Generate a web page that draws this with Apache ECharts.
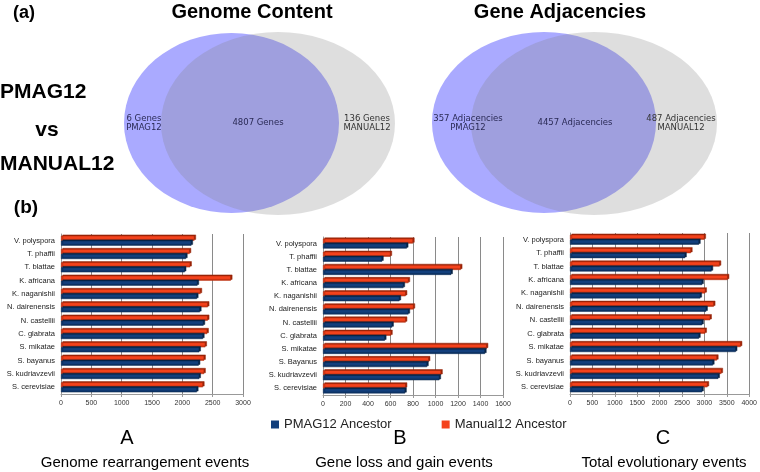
<!DOCTYPE html>
<html lang="en">
<head>
	<meta charset="UTF-8">
	<title>PMAG12 vs MANUAL12</title>
	<style>
		html, body{
			margin: 0;
			padding: 0;
			background: #fff;
		}
		#main{
			width: 760px;
			height: 472px;
		}
	</style>
	<script src="https://cdn.jsdelivr.net/npm/echarts@6/dist/echarts.min.js"></script>
</head>
<body>
	<div id="main"></div>
	<script>
		// 物种（B图里 Bayanus 是大写）
		var species = ['V. polyspora', 'T. phaffii', 'T. blattae', 'K. africana', 'K. naganishii', 'N. dairenensis',
			'N. castellii', 'C. glabrata', 'S. mikatae', 'S. bayanus', 'S. kudriavzevii', 'S. cerevisiae'];
		var speciesB = ['V. polyspora', 'T. phaffii', 'T. blattae', 'K. africana', 'K. naganishii', 'N. dairenensis',
			'N. castellii', 'C. glabrata', 'S. mikatae', 'S. Bayanus', 'S. kudriavzevii', 'S. cerevisiae'];

		// A: genome rearrangement events
		var rearrPmag = [2150, 2060, 2040, 2250, 2240, 2290, 2350, 2340, 2280, 2270, 2280, 2240];
		var rearrManual = [2200, 2120, 2130, 2800, 2300, 2420, 2420, 2410, 2380, 2360, 2360, 2340];
		// B: gene loss and gain events
		var lossPmag = [745, 525, 1140, 715, 680, 760, 615, 550, 1440, 925, 1035, 730];
		var lossManual = [800, 600, 1225, 760, 735, 805, 735, 605, 1455, 940, 1050, 735];
		// C: total evolutionary events
		var totalPmag = [2880, 2570, 3160, 2950, 2910, 3040, 2950, 2880, 3700, 3190, 3310, 2950];
		var totalManual = [3000, 2700, 3340, 3520, 3020, 3210, 3130, 3020, 3810, 3280, 3380, 3070];

		// 坐标轴刻度
		var axisMax = [3000, 1600, 4000];
		var axisStep = [500, 200, 500];

		// Venn 数字
		var vennGenes = [6, 4807, 136];
		var vennAdj = [357, 4457, 487];

		var seriesNames = ['PMAG12 Ancestor', 'Manual12 Ancestor'];
		var colors = ['#123f7c', '#f4421c'];
		var edge = ['#082447', '#9a2408'];

		var myChart = echarts.init(document.getElementById('main'));

		var grids = [
			{left: 61, top: 234, width: 182, height: 160},
			{left: 323, top: 237, width: 180, height: 158},
			{left: 570, top: 233, width: 182, height: 161}
		];
		var cats = [species, speciesB, species];
		var dataSets = [[rearrPmag, rearrManual], [lossPmag, lossManual], [totalPmag, totalManual]];

		var xAxes = [], yAxes = [], series = [];
		for (var i = 0; i < 3; i++) {
			xAxes.push({
				type: 'value',
				gridIndex: i,
				min: 0,
				max: axisMax[i],
				interval: axisStep[i],
				axisLine: {show: true, lineStyle: {color: '#999'}},
				axisTick: {show: true, length: 3, lineStyle: {color: '#999'}},
				axisLabel: {
					fontSize: 7, color: '#333', margin: 6, fontFamily: 'Liberation Sans',
					formatter: function (v) { return String(v); }
				},
				splitLine: {show: true, lineStyle: {color: '#8a8a8a', width: 1}}
			});
			yAxes.push({
				type: 'category',
				gridIndex: i,
				inverse: true,
				data: cats[i],
				axisLine: {show: true, lineStyle: {color: '#999'}},
				axisTick: {show: false},
				axisLabel: {fontSize: 7.5, color: '#222', margin: 6, fontFamily: 'Liberation Sans'}
			});
			for (var s = 1; s >= 0; s--) {
				series.push({
					name: seriesNames[s],
					type: 'bar',
					xAxisIndex: i,
					yAxisIndex: i,
					data: dataSets[i][s],
					barWidth: 5,
					barGap: '0%',
					itemStyle: {
						color: colors[s],
						borderColor: edge[s],
						borderWidth: 0.5,
						shadowColor: edge[s],
						shadowOffsetX: 1.5,
						shadowOffsetY: -1
					}
				});
			}
		}

		function txt(x, y, text, size, weight, align, family, color) {
			return {
				type: 'text',
				x: x,
				y: y,
				style: {
					text: text,
					fontSize: size,
					fontWeight: weight || 'normal',
					fontFamily: family || 'Liberation Sans',
					fill: color || '#000',
					align: align || 'center',
					verticalAlign: 'middle'
				}
			};
		}
		function ellipse(cx, cy, rx, ry, fill) {
			return {
				type: 'circle',
				x: cx,
				y: cy,
				scaleX: rx / ry,
				shape: {cx: 0, cy: 0, r: ry},
				style: {fill: fill}
			};
		}

		var graphics = [
			// Venn：蓝色在下，灰色半透明在上
			ellipse(231.5, 123, 107.5, 90, '#aaaaff'),
			ellipse(278, 123.5, 117, 91.5, 'rgba(128,128,128,0.26)'),
			ellipse(544, 122.5, 112, 90.5, '#aaaaff'),
			ellipse(594, 123.5, 123, 91.5, 'rgba(128,128,128,0.26)'),

			txt(144, 123, vennGenes[0] + ' Genes\nPMAG12', 8.5, 'normal', 'center', 'DejaVu Sans', '#2a2a55'),
			txt(258, 123, vennGenes[1] + ' Genes', 8.5, 'normal', 'center', 'DejaVu Sans', '#2a2a55'),
			txt(367, 123, vennGenes[2] + ' Genes\nMANUAL12', 8.5, 'normal', 'center', 'DejaVu Sans', '#333'),
			txt(468, 123, vennAdj[0] + ' Adjacencies\nPMAG12', 8.5, 'normal', 'center', 'DejaVu Sans', '#2a2a55'),
			txt(575, 123, vennAdj[1] + ' Adjacencies', 8.5, 'normal', 'center', 'DejaVu Sans', '#2a2a55'),
			txt(681, 123, vennAdj[2] + ' Adjacencies\nMANUAL12', 8.5, 'normal', 'center', 'DejaVu Sans', '#333'),

			txt(252, 12, 'Genome Content', 20, 'bold'),
			txt(560, 12, 'Gene Adjacencies', 20, 'bold'),
			txt(24, 13, '(a)', 18, 'bold'),
			txt(26, 208, '(b)', 19, 'bold'),
			txt(0, 92, 'PMAG12', 21, 'bold', 'left'),
			txt(47, 130, 'vs', 21, 'bold'),
			txt(0, 164, 'MANUAL12', 21, 'bold', 'left'),

			txt(127, 438, 'A', 20),
			txt(400, 438, 'B', 20),
			txt(663, 438, 'C', 20),
			txt(145, 463, 'Genome rearrangement events', 15),
			txt(404, 463, 'Gene loss and gain events', 15),
			txt(664, 463, 'Total evolutionary events', 15)
		];

		var option = {
			animation: false,
			backgroundColor: '#fff',
			legend: {
				data: seriesNames,
				left: 266,
				top: 413,
				icon: 'rect',
				itemWidth: 8,
				itemHeight: 8,
				itemGap: 50,
				itemStyle: {borderWidth: 0, shadowColor: 'transparent'},
				textStyle: {fontSize: 13, color: '#222', fontFamily: 'Liberation Sans'}
			},
			grid: grids,
			xAxis: xAxes,
			yAxis: yAxes,
			series: series,
			graphic: graphics
		};

		myChart.setOption(option);
	</script>
</body>
</html>
